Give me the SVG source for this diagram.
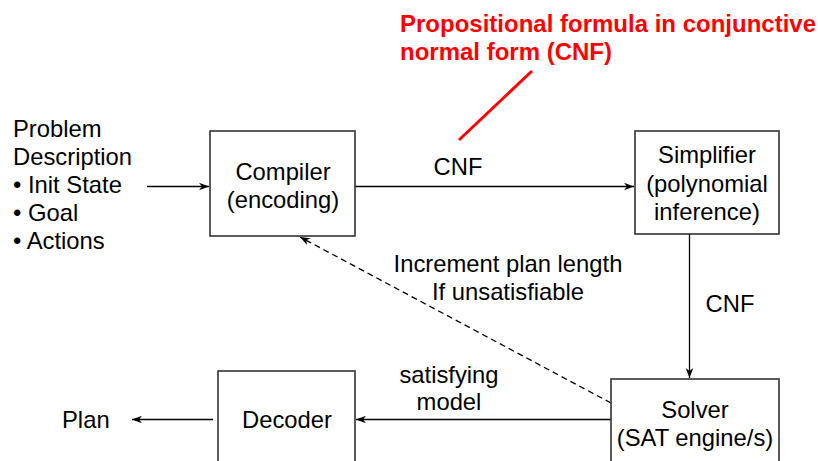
<svg xmlns="http://www.w3.org/2000/svg" width="818" height="461" viewBox="0 0 818 461">
<defs>
<marker id="ah" viewBox="-11 -5 12 10" refX="0" refY="0" markerWidth="12" markerHeight="10" markerUnits="userSpaceOnUse" orient="auto">
<path d="M0,0 L-10,-3.8 L-7,0 L-10,3.8 Z" fill="#000"/>
</marker>
</defs>
<style>
text{font-family:"Liberation Sans",Arial,sans-serif;font-size:23.8px;fill:#000}
.c{text-anchor:middle}
.box{fill:#fff;stroke:#333;stroke-width:1.6}
.ln{fill:none;stroke:#000;stroke-width:1.3}
.red{fill:#ff0000;font-weight:bold;font-size:24px}
</style>
<rect width="818" height="461" fill="#fff"/>
<g id="connectors">
<line class="ln" x1="147" y1="186.5" x2="209" y2="186.5" marker-end="url(#ah)"/>
<line class="ln" x1="355" y1="186.5" x2="634" y2="186.5" marker-end="url(#ah)"/>
<line class="ln" x1="689.5" y1="234" x2="689.5" y2="378" marker-end="url(#ah)"/>
<line class="ln" x1="611" y1="419.5" x2="356" y2="419.5" marker-end="url(#ah)"/>
<line class="ln" x1="213" y1="419.5" x2="132" y2="419.5" marker-end="url(#ah)"/>
<line class="ln" x1="611" y1="403" x2="300" y2="237" stroke-dasharray="6,4" marker-end="url(#ah)"/>
<line x1="459" y1="140" x2="532" y2="71" stroke="#ff0000" stroke-width="3"/>
</g>
<g id="input">
<text x="13" y="137">Problem</text>
<text x="13" y="165">Description</text>
<text x="13" y="193">• Init State</text>
<text x="13" y="221">• Goal</text>
<text x="13" y="249">• Actions</text>
</g>
<g id="compiler">
<rect class="box" x="210" y="131" width="145" height="105"/>
<text class="c" x="283" y="180">Compiler</text>
<text class="c" x="283" y="208">(encoding)</text>
</g>
<g id="simplifier">
<rect class="box" x="635" y="131" width="144" height="103"/>
<text class="c" x="707" y="163">Simplifier</text>
<text class="c" x="707" y="192">(polynomial</text>
<text class="c" x="707" y="220">inference)</text>
</g>
<g id="solver">
<rect class="box" x="611" y="379" width="168" height="100"/>
<text class="c" x="695" y="418">Solver</text>
<text class="c" x="695" y="446">(SAT engine/s)</text>
</g>
<g id="decoder">
<rect class="box" x="218" y="371" width="137" height="100"/>
<text class="c" x="287" y="428">Decoder</text>
</g>
<g id="labels">
<text x="62" y="428">Plan</text>
<text class="c" x="458" y="175">CNF</text>
<text class="c" x="730" y="312">CNF</text>
<text class="c" x="508" y="272">Increment plan length</text>
<text class="c" x="508" y="300">If unsatisfiable</text>
<text class="c" x="449" y="383">satisfying</text>
<text class="c" x="449" y="410">model</text>
<text class="red" x="400" y="32">Propositional formula in conjunctive</text>
<text class="red" x="400" y="60">normal form (CNF)</text>
</g>
</svg>
